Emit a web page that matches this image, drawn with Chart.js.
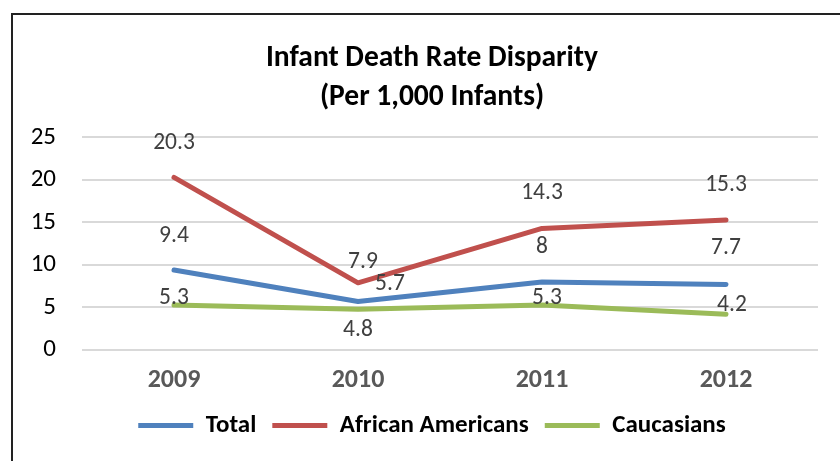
<!DOCTYPE html>
<html>
<head>
<meta charset="utf-8">
<script src="https://cdn.jsdelivr.net/npm/chart.js@4.4.1/dist/chart.umd.min.js"></script>
<style>
  html, body { margin: 0; padding: 0; background: #fff; }
  #wrap { position: relative; width: 840px; height: 461px; overflow: hidden; }
  #frame { position: absolute; left: 11px; top: 13px; width: 900px; height: 600px;
           border-top: 2px solid #222; border-left: 2px solid #222; }
  canvas { position: absolute; left: 0; top: 0; }
</style>
</head>
<body>
<div id="wrap">
  <div id="frame"></div>
  <canvas id="chart" width="840" height="461"></canvas>
</div>
<script>
/* Chart data */
const years = ["2009", "2010", "2011", "2012"];
const total = [9.4, 5.7, 8, 7.7];
const africanAmericans = [20.3, 7.9, 14.3, 15.3];
const caucasians = [5.3, 4.8, 5.3, 4.2];
const yTicks = [0, 5, 10, 15, 20, 25];

const FONT = "Carlito, Calibri, 'Liberation Sans Narrow', 'Open Sans', sans-serif";

/* Where each value label sits relative to its point (dx, dy in px) */
const labelShift = [
  [[0, -34], [32, -17], [0, -35], [0, -36]],
  [[0, -34], [5, -21], [0, -35], [0, -35]],
  [[0, -7], [0, 21], [5, -7], [6, -9]],
];

/* Value labels drawn above the points */
const valueLabels = {
  id: "valueLabels",
  afterDatasetsDraw(chart) {
    const ctx = chart.ctx;
    ctx.save();
    ctx.font = "23.5px " + FONT;
    ctx.fillStyle = "#404040";
    ctx.textAlign = "center";
    ctx.textBaseline = "middle";
    chart.data.datasets.forEach((ds, i) => {
      chart.getDatasetMeta(i).data.forEach((pt, j) => {
        const [dx, dy] = labelShift[i][j];
        ctx.fillText(String(ds.data[j]), pt.x + dx, pt.y + dy);
      });
    });
    ctx.restore();
  },
};

/* Title and legend are centred on the whole frame, not on the plot */
const centreBlocks = {
  id: "centreBlocks",
  afterLayout(chart) {
    [chart.titleBlock, chart.legend].forEach((b) => {
      if (b) { b.left += 8; b.right += 8; }
    });
  },
};

const ctx = document.getElementById("chart");
new Chart(ctx, {
  type: "line",
  plugins: [valueLabels, centreBlocks],
  data: {
    labels: years,
    datasets: [
      { label: "Total", data: total, borderColor: "#4F81BD", backgroundColor: "#4F81BD", borderWidth: 5 },
      { label: "African Americans", data: africanAmericans, borderColor: "#C0504D", backgroundColor: "#C0504D", borderWidth: 5 },
      { label: "Caucasians", data: caucasians, borderColor: "#9BBB59", backgroundColor: "#9BBB59", borderWidth: 5 },
    ],
  },
  options: {
    responsive: false,
    animation: false,
    layout: { padding: { left: 30, right: 22, top: 0, bottom: 13 } },
    elements: {
      line: { tension: 0, borderCapStyle: "round", borderJoinStyle: "round" },
      point: { radius: 0 },
    },
    plugins: {
      tooltip: { enabled: false },
      title: {
        display: true,
        text: ["Infant Death Rate Disparity", "(Per 1,000 Infants)"],
        color: "#000",
        font: { family: FONT, size: 29.5, weight: "bold", lineHeight: 1.33 },
        padding: { top: 39, bottom: 20 },
      },
      legend: {
        position: "bottom",
        labels: {
          usePointStyle: true,
          pointStyle: "line",
          pointStyleWidth: 55,
          color: "#000",
          font: { family: FONT, size: 25, weight: "bold", lineHeight: 1 },
          padding: 16,
        },
      },
    },
    scales: {
      x: {
        offset: true,
        afterFit: (scale) => { scale.height = 47; },
        grid: { display: false },
        border: { display: false },
        ticks: { color: "#595959", font: { family: FONT, size: 26, weight: "bold", lineHeight: 1 }, padding: 9 },
      },
      y: {
        min: 0,
        max: 25,
        afterFit: (scale) => { scale.width = 52; },
        afterBuildTicks: (scale) => { scale.ticks = yTicks.map((v) => ({ value: v })); },
        grid: { color: "#D9D9D9", lineWidth: 2, drawTicks: false },
        border: { display: false },
        ticks: { color: "#000", font: { family: FONT, size: 25 }, padding: 26 },
      },
    },
  },
});
</script>
</body>
</html>
